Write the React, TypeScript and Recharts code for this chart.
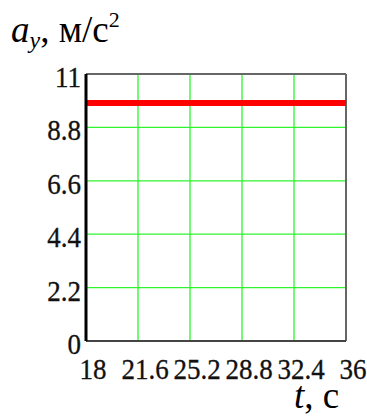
import React from 'react';
import { LineChart, Line, XAxis, YAxis, CartesianGrid, ReferenceLine } from 'recharts';

const tValues = [18, 36];
const ayValues = [9.81, 9.81];
const xTicks = [18, 21.6, 25.2, 28.8, 32.4, 36];
const yTicks = [0, 2.2, 4.4, 6.6, 8.8, 11];

const data = tValues.map((t, i) => ({ t, ay: ayValues[i] }));

const FONT = '"Liberation Serif", "Times New Roman", serif';

const XTick = (props: any) => {
  const { x, y, payload } = props;
  return (
    <g transform={`translate(${x + 7}, ${y + 30}) scale(1, 1.06)`}>
      <text x={0} y={0} textAnchor="middle" fontFamily={FONT} fontSize={27} fill="#111" stroke="#111" strokeWidth={0.3}>
        {payload.value}
      </text>
    </g>
  );
};

const YTick = (props: any) => {
  const { x, y, payload } = props;
  return (
    <g transform={`translate(${x + 3}, ${y + 13}) scale(1, 1.06)`}>
      <text x={0} y={0} textAnchor="end" fontFamily={FONT} fontSize={27} fill="#111" stroke="#111" strokeWidth={0.3}>
        {payload.value}
      </text>
    </g>
  );
};

export default function App() {
  return (
    <div style={{ position: 'absolute', left: 0, top: 0, width: 367, height: 417, background: '#fff' }}>
      <LineChart width={367} height={417} data={data} margin={{ top: 74, right: 21, left: 0, bottom: 0 }}>
        <CartesianGrid stroke="#2ef52e" strokeWidth={1.3} />
        <XAxis
          dataKey="t"
          type="number"
          domain={[18, 36]}
          ticks={xTicks}
          height={76}
          tickLine={false}
          axisLine={{ stroke: '#444', strokeWidth: 2 }}
          tick={<XTick />}
          interval={0}
        />
        <YAxis
          type="number"
          domain={[0, 11]}
          ticks={yTicks}
          width={86}
          tickLine={false}
          axisLine={{ stroke: '#000', strokeWidth: 3 }}
          tick={<YTick />}
          interval={0}
        />
        <ReferenceLine y={11} stroke="#666" strokeWidth={2} />
        <ReferenceLine x={36} stroke="#666" strokeWidth={2} />
        <Line
          dataKey="ay"
          stroke="#ff0000"
          strokeWidth={6}
          dot={false}
          isAnimationActive={false}
        />
      </LineChart>
      <svg width={367} height={417} style={{ position: 'absolute', left: 0, top: 0, pointerEvents: 'none' }}>
        <text x={11} y={42} fontFamily={FONT} fontSize={37} fill="#000">
          <tspan fontStyle="italic">a</tspan>
          <tspan fontStyle="italic" fontSize={24} dy={6}>y</tspan>
          <tspan dy={-6}>, м/с</tspan>
          <tspan fontSize={22} dy={-15}>2</tspan>
        </text>
        <text x={294} y={408} fontFamily={FONT} fontSize={37} fill="#000">
          <tspan fontStyle="italic">t</tspan>
          <tspan>, с</tspan>
        </text>
      </svg>
    </div>
  );
}
